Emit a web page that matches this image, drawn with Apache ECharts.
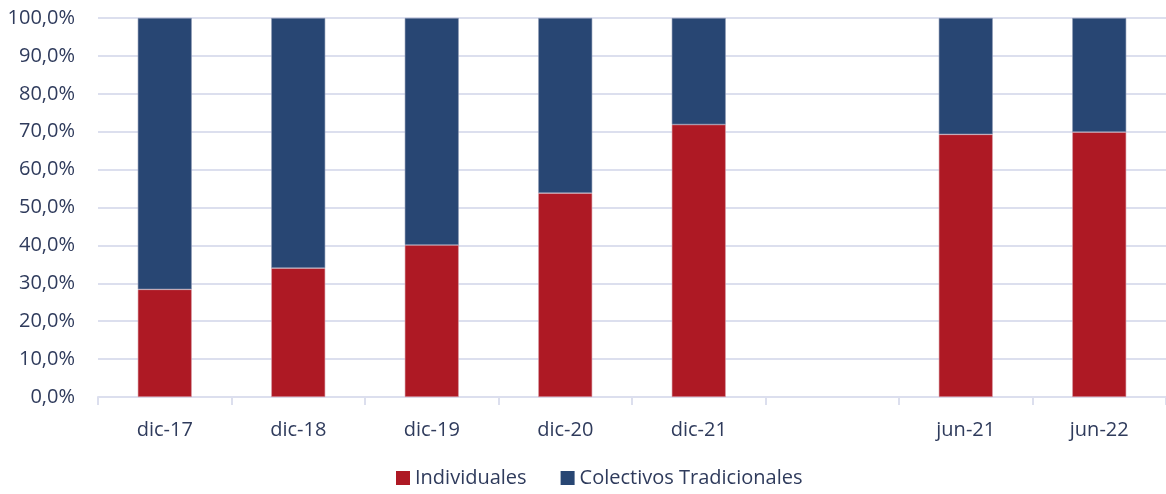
<!DOCTYPE html>
<html>
<head>
<meta charset="utf-8">
<script src="https://cdn.jsdelivr.net/npm/echarts@6/dist/echarts.min.js"></script>
<style>
  html, body { margin: 0; padding: 0; background: #fff; }
  #chart { width: 1166px; height: 494px; }
</style>
</head>
<body>
<div id="chart"></div>
<script>
// categories (empty slot between dic-21 and jun-21)
var categories = ['dic-17', 'dic-18', 'dic-19', 'dic-20', 'dic-21', '', 'jun-21', 'jun-22'];
var individuales = [28.4, 34.0, 40.1, 53.8, 71.9, null, 69.3, 69.9];
var colectivos = [71.6, 66.0, 59.9, 46.2, 28.1, null, 30.7, 30.1];

var textColor = '#2f3b5c';
var gridColor = '#dcdfee';

var myChart = echarts.init(document.getElementById('chart'));
var option = {
    animation: false,
    textStyle: { fontFamily: 'Open Sans' },
    legend: {
        top: 468,
        left: 396,
        padding: 0,
        itemWidth: 14,
        itemHeight: 14,
        itemGap: 34,
        icon: 'rect',
        itemStyle: { borderWidth: 0 },
        textStyle: { color: textColor, fontSize: 20, fontFamily: 'Open Sans' },
        data: ['Individuales', 'Colectivos Tradicionales']
    },
    grid: { left: 98, right: -4, top: 18, bottom: 97 },
    xAxis: {
        type: 'category',
        data: categories,
        axisLine: { lineStyle: { color: gridColor, width: 2 } },
        axisTick: { show: true, length: 8, lineStyle: { color: gridColor, width: 2 } },
        axisLabel: { color: textColor, fontSize: 20, margin: 23, fontFamily: 'Open Sans' }
    },
    yAxis: {
        type: 'value',
        min: 0,
        max: 100,
        interval: 10,
        axisLine: { show: false },
        axisTick: { show: false },
        splitLine: { lineStyle: { color: gridColor, width: 2 } },
        axisLabel: {
            color: textColor,
            fontSize: 20,
            margin: 23,
            fontFamily: 'Open Sans',
            formatter: function (v) { return v.toFixed(1).replace('.', ',') + '%'; }
        }
    },
    series: [
        {
            name: 'Individuales',
            type: 'bar',
            stack: 'total',
            barWidth: 54,
            itemStyle: { color: '#ae1924', borderColor: '#d9a0a8', borderWidth: 0.6 },
            data: individuales
        },
        {
            name: 'Colectivos Tradicionales',
            type: 'bar',
            stack: 'total',
            barWidth: 54,
            itemStyle: { color: '#284673', borderColor: '#8d9ab5', borderWidth: 0.6 },
            data: colectivos
        }
    ]
};
myChart.setOption(option);
</script>
</body>
</html>
